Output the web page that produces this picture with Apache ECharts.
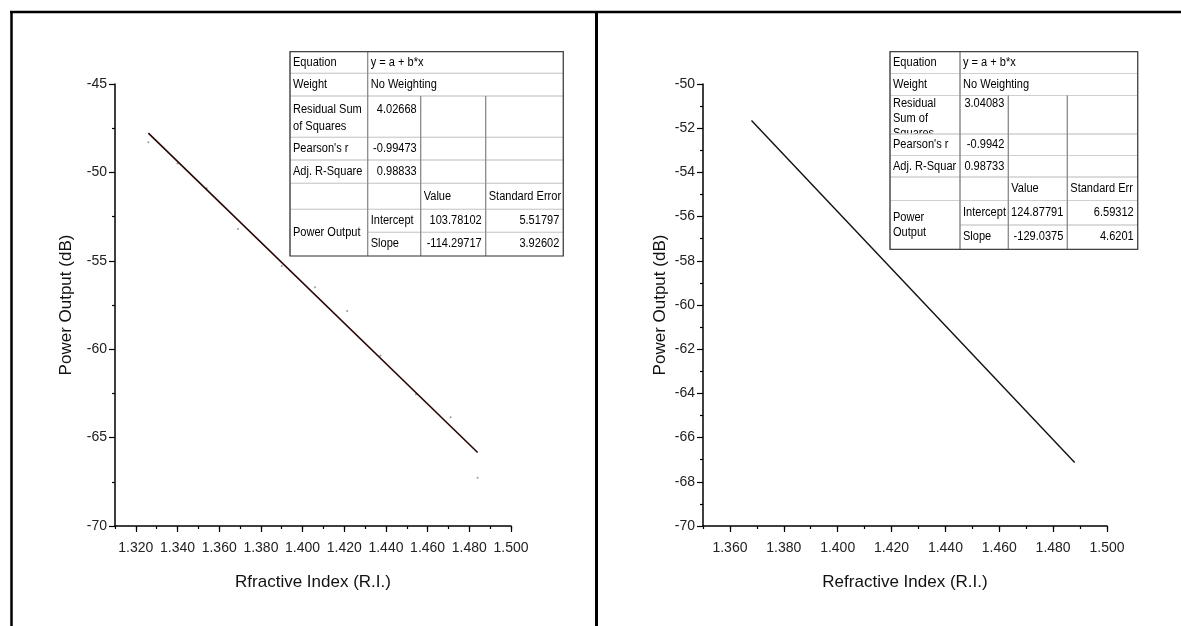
<!DOCTYPE html>
<html>
<head>
<meta charset="utf-8">
<script src="https://cdn.jsdelivr.net/npm/echarts@6/dist/echarts.min.js"></script>
<style>
  html, body { margin: 0; padding: 0; background: #fff; }
  #chart { width: 1181px; height: 626px; }
</style>
</head>
<body>
<div id="chart"></div>
<script>
// left panel: measured points and linear fit
const leftPointsX = [1.326, 1.340, 1.354, 1.369, 1.390, 1.406, 1.4214, 1.4374, 1.4544, 1.471, 1.484];
const leftPointsY = [-48.3, -49.5, -50.9, -53.2, -55.3, -56.5, -57.84, -60.35, -62.55, -63.85, -67.27];
const leftFitX = [1.326, 1.484];
const leftFitY = [-47.78, -65.84];

// right panel: linear fit only
const rightFitX = [1.368, 1.488];
const rightFitY = [-51.65, -67.13];

// fit result tables (text as shown)
const leftTableText = [
  ['Equation', 'y = a + b*x'],
  ['Weight', 'No Weighting'],
  ['Residual Sum\nof Squares', '4.02668'],
  ["Pearson's r", '-0.99473'],
  ['Adj. R-Square', '0.98833'],
  ['', '', 'Value', 'Standard Error'],
  ['Power Output', 'Intercept', '103.78102', '5.51797'],
  ['', 'Slope', '-114.29717', '3.92602']
];
const rightTableText = [
  ['Equation', 'y = a + b*x'],
  ['Weight', 'No Weighting'],
  ['Residual\nSum of\nSquares', '3.04083'],
  ["Pearson's r", '-0.9942'],
  ['Adj. R-Squar', '0.98733'],
  ['', '', 'Value', 'Standard Err'],
  ['Power\nOutput', 'Intercept', '124.87791', '6.59312'],
  ['', 'Slope', '-129.0375', '4.6201']
];

const FONT = 'Arial, "Liberation Sans", sans-serif';

const chart = echarts.init(document.getElementById('chart'));

function toPairs(xs, ys) {
  return xs.map((x, i) => [x, ys[i]]);
}

function mainXAxis(gridIndex, min, max, splitNumber, name) {
  return {
    type: 'value', gridIndex, position: 'bottom', min, max, splitNumber,
    name, nameLocation: 'middle', nameGap: 48,
    nameTextStyle: { fontSize: 17, color: '#111', fontFamily: FONT },
    axisLine: { show: true, onZero: false, lineStyle: { color: '#000', width: 1.5 } },
    axisTick: { show: true, length: 6, lineStyle: { color: '#000', width: 1.2 } },
    axisLabel: {
      showMinLabel: false, margin: 15, fontSize: 14, color: '#222', fontFamily: FONT,
      formatter: v => v.toFixed(3)
    },
    splitLine: { show: false }
  };
}

function minorXAxis(gridIndex, min, max) {
  return {
    type: 'value', gridIndex, position: 'bottom', min, max, interval: 0.01,
    axisLine: { show: false },
    axisTick: { show: true, length: 3, lineStyle: { color: '#000', width: 1.2 } },
    axisLabel: { show: false },
    splitLine: { show: false }
  };
}

function yAxis(gridIndex, min, max, interval, nameGap) {
  return {
    type: 'value', gridIndex, min, max, interval,
    name: 'Power Output (dB)', nameLocation: 'middle', nameGap, nameRotate: 90,
    nameTextStyle: { fontSize: 17, color: '#111', fontFamily: FONT },
    axisLine: { show: true, onZero: false, lineStyle: { color: '#000', width: 1.5 } },
    axisTick: { show: true, length: 6, lineStyle: { color: '#000', width: 1.2 } },
    minorTick: { show: true, splitNumber: 2, length: 3, lineStyle: { color: '#000', width: 1.2 } },
    axisLabel: { margin: 8, fontSize: 14, color: '#222', fontFamily: FONT },
    splitLine: { show: false },
    minorSplitLine: { show: false }
  };
}

// cell layout: [row, col, rowSpan, colSpan, text, align, valign, clip]
function tableCells(t) {
  return [
    [0, 0, 1, 1, t[0][0], 'left'], [0, 1, 1, 3, t[0][1], 'left'],
    [1, 0, 1, 1, t[1][0], 'left'], [1, 1, 1, 3, t[1][1], 'left'],
    [2, 0, 1, 1, t[2][0], 'left', 'top', true], [2, 1, 1, 1, t[2][1], 'right', 'top'],
    [2, 2, 1, 1, ''], [2, 3, 1, 1, ''],
    [3, 0, 1, 1, t[3][0], 'left'], [3, 1, 1, 1, t[3][1], 'right'], [3, 2, 1, 1, ''], [3, 3, 1, 1, ''],
    [4, 0, 1, 1, t[4][0], 'left'], [4, 1, 1, 1, t[4][1], 'right'], [4, 2, 1, 1, ''], [4, 3, 1, 1, ''],
    [5, 0, 1, 1, ''], [5, 1, 1, 1, ''], [5, 2, 1, 1, t[5][2], 'left'], [5, 3, 1, 1, t[5][3], 'left'],
    [6, 0, 2, 1, t[6][0], 'left'], [6, 1, 1, 1, t[6][1], 'left'],
    [6, 2, 1, 1, t[6][2], 'right'], [6, 3, 1, 1, t[6][3], 'right'],
    [7, 1, 1, 1, t[7][1], 'left'], [7, 2, 1, 1, t[7][2], 'right'], [7, 3, 1, 1, t[7][3], 'right']
  ];
}

function buildTable(text, cols, rows, topPad, lineHeight) {
  const els = [];
  tableCells(text).forEach(([r, c, rs, cs, str, align, valign, clip]) => {
    const x0 = cols[c], x1 = cols[c + cs], y0 = rows[r], y1 = rows[r + rs];
    // horizontal edges light, vertical edges darker
    els.push({ type: 'line', z: 30, shape: { x1: x0, y1: y0, x2: x1, y2: y0 }, style: { stroke: '#d0d0d0', lineWidth: 1 } });
    els.push({ type: 'line', z: 30, shape: { x1: x0, y1: y1, x2: x1, y2: y1 }, style: { stroke: '#d0d0d0', lineWidth: 1 } });
    els.push({ type: 'line', z: 31, shape: { x1: x0, y1: y0, x2: x0, y2: y1 }, style: { stroke: '#8a8a8a', lineWidth: 1 } });
    els.push({ type: 'line', z: 31, shape: { x1: x1, y1: y0, x2: x1, y2: y1 }, style: { stroke: '#8a8a8a', lineWidth: 1 } });
    if (!str) return;
    const top = valign === 'top';
    els.push({
      type: 'text', z: clip ? 10 : 20,
      x: align === 'right' ? x1 - 4 : x0 + 3,
      y: top ? y0 + topPad : (y0 + y1) / 2,
      scaleX: 0.92,
      style: {
        text: str, fontSize: 12, fontFamily: FONT, fill: '#000',
        align, verticalAlign: top ? 'top' : 'middle', lineHeight
      }
    });
    if (clip) {
      // hide the part of the label that runs past the cell
      els.push({ type: 'rect', z: 15, shape: { x: x0 + 1, y: y1, width: x1 - x0 - 2, height: 12 }, style: { fill: '#fff' } });
    }
  });
  const W = cols[cols.length - 1] - cols[0], H = rows[rows.length - 1] - rows[0];
  els.push({ type: 'rect', z: 32, shape: { x: cols[0], y: rows[0], width: W, height: H }, style: { fill: null, stroke: '#444', lineWidth: 1.2 } });
  return els;
}

const frame = [
  { type: 'line', z: 40, shape: { x1: 10, y1: 12, x2: 1181, y2: 12 }, style: { stroke: '#000', lineWidth: 2.5 } },
  { type: 'line', z: 40, shape: { x1: 11.5, y1: 11, x2: 11.5, y2: 626 }, style: { stroke: '#000', lineWidth: 2.5 } },
  { type: 'line', z: 40, shape: { x1: 596.5, y1: 11, x2: 596.5, y2: 626 }, style: { stroke: '#000', lineWidth: 3 } }
];

const option = {
  animation: false,
  backgroundColor: '#fff',
  textStyle: { fontFamily: FONT },
  grid: [
    { left: 115, top: 84, width: 396, height: 442 },
    { left: 703, top: 84, width: 404, height: 442 }
  ],
  xAxis: [
    mainXAxis(0, 1.31, 1.5, 9, 'Rfractive Index (R.I.)'),
    minorXAxis(0, 1.31, 1.5),
    mainXAxis(1, 1.35, 1.5, 7, 'Refractive Index (R.I.)'),
    minorXAxis(1, 1.35, 1.5)
  ],
  yAxis: [
    yAxis(0, -70, -45, 5, 40),
    yAxis(1, -70, -50, 2, 34)
  ],
  series: [
    {
      type: 'scatter', xAxisIndex: 0, yAxisIndex: 0,
      data: toPairs(leftPointsX, leftPointsY),
      symbolSize: 2, itemStyle: { color: '#808080' }, z: 2
    },
    {
      type: 'line', xAxisIndex: 0, yAxisIndex: 0,
      data: toPairs(leftFitX, leftFitY),
      showSymbol: false, lineStyle: { color: '#2a0505', width: 1.6 }, z: 3
    },
    {
      type: 'line', xAxisIndex: 2, yAxisIndex: 1,
      data: toPairs(rightFitX, rightFitY),
      showSymbol: false, lineStyle: { color: '#111', width: 1.4 }, z: 3
    }
  ],
  graphic: [
    ...frame,
    ...buildTable(leftTableText,
      [290, 367.7, 420.7, 485.7, 563.3],
      [51.7, 73.3, 96, 137.3, 160, 183.3, 209.3, 232.3, 256], 5, 17),
    ...buildTable(rightTableText,
      [890, 960, 1008.3, 1067.3, 1137.7],
      [51.7, 73.5, 95.5, 134, 155.5, 177, 200.5, 225, 249.3], 1, 15)
  ]
};

chart.setOption(option);
window.addEventListener('resize', () => chart.resize());
</script>
</body>
</html>
